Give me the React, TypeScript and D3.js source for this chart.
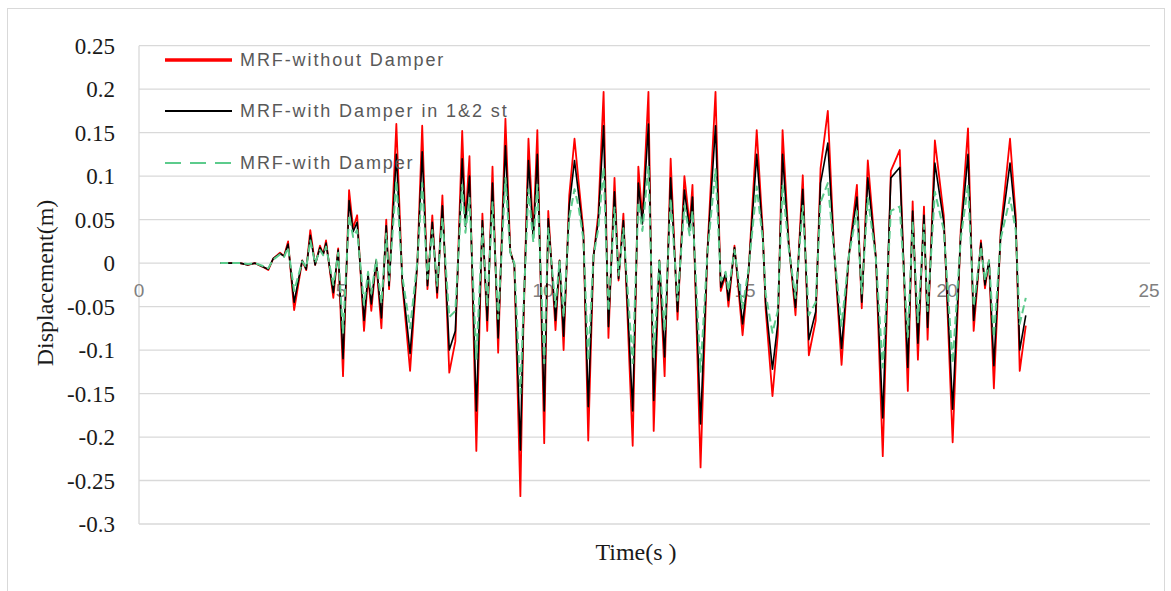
import React, { useEffect, useRef } from "react";
import * as d3 from "d3";

// time (s) of each read-off extremum
const times = [
  2.01, 2.5, 2.7, 2.87, 3.05, 3.2, 3.32, 3.49, 3.59, 3.69, 3.84, 4.04, 4.14, 4.24, 4.36, 4.48, 4.56, 4.63, 4.81, 4.93,
  5.05, 5.2, 5.3, 5.4, 5.57, 5.67, 5.75, 5.87, 6.0, 6.12, 6.19, 6.37, 6.52, 6.71, 6.89, 7.01, 7.14, 7.26, 7.38, 7.51,
  7.68, 7.83, 8.0, 8.08, 8.18, 8.35, 8.5, 8.62, 8.75, 8.89, 9.07, 9.19, 9.29, 9.44, 9.51, 9.64, 9.76, 9.86, 10.03, 10.13,
  10.31, 10.41, 10.51, 10.65, 10.78, 10.88, 11.0, 11.12, 11.25, 11.37, 11.5, 11.62, 11.77, 11.87, 11.99, 12.22, 12.36, 12.46, 12.61, 12.74,
  12.88, 13.01, 13.16, 13.33, 13.5, 13.63, 13.7, 13.9, 14.07, 14.27, 14.4, 14.52, 14.59, 14.74, 14.94, 15.09, 15.29, 15.44, 15.51, 15.68,
  15.81, 15.93, 16.08, 16.25, 16.43, 16.58, 16.75, 16.87, 17.05, 17.2, 17.39, 17.57, 17.77, 17.89, 18.04, 18.24, 18.41, 18.61, 18.83, 19.03,
  19.15, 19.28, 19.43, 19.52, 19.7, 19.92, 20.14, 20.34, 20.52, 20.66, 20.84, 20.94, 21.04, 21.16, 21.33, 21.56, 21.7, 21.8, 21.95,
];

// MRF-without Damper
const noDamper = [
  0, 0, -0.002, 0, -0.004, -0.008, 0.005, 0.012, 0.008, 0.025, -0.054, 0.003, -0.008, 0.038, -0.002, 0.02, 0.01, 0.026, -0.04, 0.017,
  -0.13, 0.084, 0.04, 0.055, -0.078, -0.015, -0.055, 0.003, -0.075, 0.05, -0.03, 0.16, -0.025, -0.124, 0.0, 0.158, -0.03, 0.055, -0.04, 0.078,
  -0.126, -0.09, 0.152, 0.048, 0.123, -0.216, 0.057, -0.078, 0.111, -0.103, 0.166, 0.014, -0.002, -0.268, -0.083, 0.143, 0.032, 0.153, -0.207, 0.06,
  -0.077, 0.003, -0.1, 0.078, 0.143, 0.094, 0.037, -0.204, 0.008, 0.057, 0.197, -0.086, 0.098, -0.02, 0.057, -0.21, 0.111, 0.052, 0.197, -0.193,
  0.003, -0.13, 0.12, -0.065, 0.1, 0.044, 0.09, -0.235, 0.014, 0.197, -0.032, -0.014, -0.05, 0.02, -0.083, -0.009, 0.153, 0.037, -0.052, -0.153,
  -0.083, 0.153, 0.025, -0.06, 0.101, -0.106, -0.066, 0.109, 0.175, 0.02, -0.117, 0.008, 0.09, -0.052, 0.118, 0.006, -0.222, 0.106, 0.13, -0.147,
  0.071, -0.111, 0.065, -0.088, 0.141, 0.055, -0.206, 0.038, 0.155, -0.078, 0.026, -0.029, 0.003, -0.144, 0.038, 0.143, 0.055, -0.124, -0.072,
];

// MRF-with Damper in 1&2 st
const damper12 = [
  0, 0, -0.002, 0, -0.004, -0.007, 0.005, 0.011, 0.008, 0.022, -0.045, 0.003, -0.007, 0.032, -0.002, 0.018, 0.01, 0.023, -0.034, 0.015,
  -0.11, 0.072, 0.036, 0.047, -0.066, -0.013, -0.047, 0.003, -0.063, 0.043, -0.026, 0.125, -0.022, -0.104, 0.0, 0.128, -0.026, 0.047, -0.034, 0.066,
  -0.1, -0.078, 0.12, 0.042, 0.1, -0.17, 0.049, -0.066, 0.092, -0.086, 0.135, 0.013, -0.002, -0.215, -0.072, 0.118, 0.028, 0.125, -0.17, 0.051,
  -0.066, 0.003, -0.084, 0.066, 0.118, 0.08, 0.032, -0.165, 0.008, 0.049, 0.158, -0.073, 0.082, -0.018, 0.049, -0.17, 0.092, 0.045, 0.16, -0.158,
  0.003, -0.108, 0.098, -0.056, 0.084, 0.038, 0.076, -0.185, 0.013, 0.158, -0.028, -0.012, -0.043, 0.018, -0.07, -0.008, 0.125, 0.032, -0.045, -0.122,
  -0.07, 0.125, 0.022, -0.051, 0.085, -0.088, -0.056, 0.092, 0.138, 0.018, -0.098, 0.008, 0.076, -0.045, 0.098, 0.006, -0.178, 0.098, 0.11, -0.12,
  0.06, -0.092, 0.055, -0.074, 0.115, 0.047, -0.168, 0.033, 0.125, -0.066, 0.023, -0.025, 0.003, -0.118, 0.033, 0.115, 0.047, -0.1, -0.06,
];

// MRF-with Damper
const damperAll = [
  0, 0, -0.001, 0, -0.003, -0.006, 0.004, 0.01, 0.007, 0.018, -0.032, 0.002, -0.005, 0.026, 0.0, 0.015, 0.009, 0.019, -0.025, 0.012,
  -0.08, 0.055, 0.03, 0.038, -0.048, -0.01, -0.035, 0.004, -0.046, 0.034, -0.02, 0.095, -0.016, -0.075, 0.002, 0.092, -0.018, 0.038, -0.026, 0.052,
  -0.062, -0.055, 0.09, 0.035, 0.075, -0.11, 0.04, -0.05, 0.07, -0.064, 0.098, 0.012, 0.0, -0.15, -0.06, 0.085, 0.024, 0.09, -0.115, 0.04,
  -0.05, 0.003, -0.062, 0.052, 0.085, 0.065, 0.027, -0.112, 0.008, 0.04, 0.11, -0.055, 0.064, -0.014, 0.04, -0.115, 0.07, 0.037, 0.112, -0.108,
  0.004, -0.078, 0.074, -0.043, 0.066, 0.032, 0.06, -0.125, 0.012, 0.108, -0.02, -0.01, -0.032, 0.015, -0.052, -0.006, 0.088, 0.027, -0.035, -0.08,
  -0.055, 0.09, 0.018, -0.04, 0.066, -0.06, -0.045, 0.07, 0.092, 0.015, -0.072, 0.008, 0.06, -0.035, 0.075, 0.005, -0.12, 0.06, 0.065, -0.085,
  0.048, -0.068, 0.044, -0.055, 0.082, 0.038, -0.115, 0.028, 0.09, -0.05, 0.019, -0.02, 0.003, -0.085, 0.028, 0.075, 0.038, -0.07, -0.04,
];

const yTicks = [0.25, 0.2, 0.15, 0.1, 0.05, 0, -0.05, -0.1, -0.15, -0.2, -0.25, -0.3];
const xTicks = [0, 5, 10, 15, 20, 25];
const legendNames = ["MRF-without Damper", "MRF-with Damper in 1&2 st", "MRF-with Damper"];

function drawChart(el: SVGSVGElement) {
  const svg = d3.select(el);
  svg.selectAll("*").remove();

  const left = 139,
    right = 1149,
    top = 45.7,
    bottom = 524;

  const x = d3.scaleLinear().domain([0, 25]).range([left, right]);
  const y = d3.scaleLinear().domain([-0.3, 0.25]).range([bottom, top]);

  // outer chart border
  svg
    .append("rect")
    .attr("x", 7.5)
    .attr("y", 8.5)
    .attr("width", 1157)
    .attr("height", 590)
    .attr("fill", "#fff")
    .attr("stroke", "#d9d9d9");

  // horizontal grid
  svg
    .append("g")
    .selectAll("line")
    .data(yTicks)
    .join("line")
    .attr("x1", left)
    .attr("x2", right + 1)
    .attr("y1", (d) => y(d))
    .attr("y2", (d) => y(d))
    .attr("stroke", "#d9d9d9")
    .attr("stroke-width", 1.3);

  // vertical axis line
  svg
    .append("line")
    .attr("x1", left)
    .attr("x2", left)
    .attr("y1", top)
    .attr("y2", bottom)
    .attr("stroke", "#d9d9d9")
    .attr("stroke-width", 1.3);

  // y tick labels
  svg
    .append("g")
    .selectAll("text")
    .data(yTicks)
    .join("text")
    .attr("x", 115)
    .attr("y", (d) => y(d))
    .attr("dy", "0.35em")
    .attr("text-anchor", "end")
    .style("font-family", "'Liberation Serif', serif")
    .style("font-size", "23px")
    .attr("fill", "#1a1a1a")
    .text((d) => String(d));

  // x tick labels (sit under the zero line)
  svg
    .append("g")
    .selectAll("text")
    .data(xTicks)
    .join("text")
    .attr("x", (d) => x(d))
    .attr("y", y(0) + 27)
    .attr("dy", "0.35em")
    .attr("text-anchor", "middle")
    .style("font-family", "'Liberation Sans', sans-serif")
    .style("font-size", "19px")
    .attr("fill", "#808080")
    .text((d) => String(d));

  // axis titles
  svg
    .append("text")
    .attr("transform", `translate(45,${283}) rotate(-90)`)
    .attr("dy", "0.35em")
    .attr("text-anchor", "middle")
    .style("font-family", "'Liberation Serif', serif")
    .style("font-size", "24px")
    .attr("fill", "#1a1a1a")
    .text("Displacement(m)");

  svg
    .append("text")
    .attr("x", 636)
    .attr("y", 552)
    .attr("dy", "0.35em")
    .attr("text-anchor", "middle")
    .style("font-family", "'Liberation Serif', serif")
    .style("font-size", "24px")
    .attr("fill", "#1a1a1a")
    .text("Time(s )");

  const line = d3
    .line<number>()
    .x((_, i) => x(times[i]))
    .y((d) => y(d));

  const series = [
    { values: noDamper, color: "#ff0000", width: 1.8, dash: null },
    { values: damper12, color: "#000000", width: 1.6, dash: null },
    { values: damperAll, color: "#5ccb8c", width: 2, dash: "8,4" },
  ];

  series.forEach((s) => {
    svg
      .append("path")
      .datum(s.values)
      .attr("d", line)
      .attr("fill", "none")
      .attr("stroke", s.color)
      .attr("stroke-width", s.width)
      .attr("stroke-linejoin", "round")
      .attr("stroke-dasharray", s.dash);
  });

  // legend
  const legendY = [60, 111, 163];
  const legend = svg
    .append("g")
    .selectAll("g")
    .data(series)
    .join("g")
    .attr("transform", (_, i) => `translate(165,${legendY[i]})`);

  legend
    .append("line")
    .attr("x1", 0)
    .attr("x2", 67)
    .attr("stroke", (d) => d.color)
    .attr("stroke-width", (d, i) => (i === 0 ? 3.5 : 2))
    .attr("stroke-dasharray", (d) => (d.dash ? "16,9" : null));

  legend
    .append("text")
    .attr("x", 75)
    .attr("dy", "0.35em")
    .style("font-family", "'Liberation Sans', sans-serif")
    .style("font-size", "18px")
    .style("letter-spacing", "1.9px")
    .attr("fill", "#595959")
    .text((_, i) => legendNames[i]);
}

export default function App() {
  const ref = useRef<SVGSVGElement>(null);
  useEffect(() => {
    if (ref.current) drawChart(ref.current);
  }, []);

  return (
    <svg
      ref={ref}
      width={1171}
      height={591}
      style={{ position: "absolute", left: 0, top: 0, background: "#fff" }}
    />
  );
}
